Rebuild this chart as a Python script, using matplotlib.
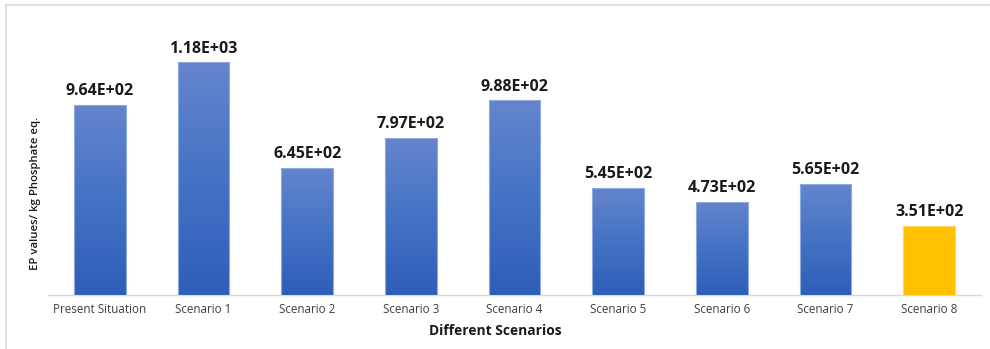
import numpy as np
import matplotlib
matplotlib.use("Agg")
import matplotlib.pyplot as plt
from matplotlib.colors import LinearSegmentedColormap
from matplotlib.lines import Line2D

categories = ["Present Situation", "Scenario 1", "Scenario 2", "Scenario 3", "Scenario 4",
              "Scenario 5", "Scenario 6", "Scenario 7", "Scenario 8"]
values = [964, 1180, 645, 797, 988, 545, 473, 565, 351]
labels = ["9.64E+02", "1.18E+03", "6.45E+02", "7.97E+02", "9.88E+02",
          "5.45E+02", "4.73E+02", "5.65E+02", "3.51E+02"]
highlight = "Scenario 8"

plt.rcParams['font.family'] = ['Open Sans', 'DejaVu Sans']

fig = plt.figure(figsize=(9.9, 3.49), dpi=100)
ax = fig.add_axes([0.0485, 0.1547, 0.9425, 0.7913])

blue_grad = LinearSegmentedColormap.from_list("bg", ["#2E5EB8", "#4472C4", "#6585CD"])
x = np.arange(len(categories))
width = 0.5
bars = ax.bar(x, values, width=width, color="none", edgecolor="none", zorder=2)

grad = np.linspace(0, 1, 256).reshape(-1, 1)
for b, cat in zip(bars, categories):
    x0, w, h = b.get_x(), b.get_width(), b.get_height()
    if cat == highlight:
        ax.bar(b.get_x() + w / 2, h, width=w, color="#FFC000",
               edgecolor="#FFD866", linewidth=0.8, zorder=3)
    else:
        im = ax.imshow(grad, cmap=blue_grad, origin="lower", aspect="auto",
                       extent=[x0, x0 + w, 0, h], zorder=3)
        im.set_clip_path(b)
        ax.bar(b.get_x() + w / 2, h, width=w, color="none",
               edgecolor="#8EA9DB", linewidth=0.8, zorder=4)

for xi, v, lab in zip(x, values, labels):
    ax.annotate(lab, (xi, v), xytext=(0, 4), textcoords="offset points",
                ha="center", va="bottom", fontsize=11.5, fontweight="bold",
                color="#1a1a1a")

ax.set_xlim(-0.5, len(categories) - 0.5)
ax.set_ylim(0, 1400)
ax.set_xticks(x)
ax.set_xticklabels(categories, fontsize=8.4, color="#404040")
ax.tick_params(axis="x", length=0, pad=5.5)
ax.set_yticks([])
for s in ["top", "right", "left"]:
    ax.spines[s].set_visible(False)
ax.spines["bottom"].set_color("#D9D9D9")
ax.spines["bottom"].set_linewidth(1.0)

fig.text(0.0354, 0.447, "EP values/ kg Phosphate eq.", rotation=90,
         ha="center", va="center", fontsize=8.2, fontweight="semibold",
         color="#1a1a1a")
fig.text(0.5, 1 - 331 / 349, "Different Scenarios", ha="center", va="center",
         fontsize=9.9, fontweight="bold", color="#1a1a1a")

# light frame around the chart area
fig.add_artist(Line2D([6 / 990, 6 / 990], [0, 1 - 5 / 349], transform=fig.transFigure,
                      color="#D6DCE5", linewidth=1.2))
fig.add_artist(Line2D([6 / 990, 1], [1 - 5 / 349, 1 - 5 / 349], transform=fig.transFigure,
                      color="#D6DCE5", linewidth=1.2))

fig.savefig("out.png", dpi=100)
